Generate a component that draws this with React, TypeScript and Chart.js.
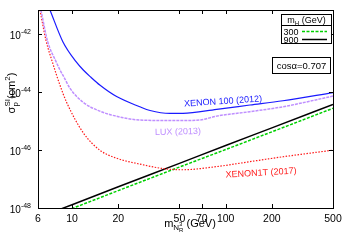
import React, { useEffect, useRef } from "react";
import { Chart, registerables } from "chart.js";

Chart.register(...registerables);

// ---- data ----
const xTicks = [6, 10, 20, 50, 70, 100, 200, 500];
const yTickExps = [-48, -46, -44, -42];

const xenon100Mass = [7.18, 8.69, 10.58, 11.83, 13.27, 15.15, 19.5, 27.6, 32.2, 43.4, 52.7, 87.4, 144, 236, 500];
const xenon100Sigma = [7e-42, 5.75e-43, 1.17e-43, 5.9e-44, 3.3e-44, 1.78e-44, 7.1e-45, 3.16e-45, 2.34e-45, 1.86e-45, 1.86e-45, 2.57e-45, 3.63e-45, 5.1e-45, 9.8e-45];

const luxMass = [6.27, 6.93, 7.85, 8.34, 8.87, 9.66, 11.83, 15.15, 19.5, 27.6, 50.3, 68, 87.4, 144, 236, 500];
const luxSigma = [7e-42, 5.75e-43, 1.17e-43, 5.9e-44, 3.3e-44, 1.41e-44, 4.47e-45, 2.24e-45, 1.48e-45, 1.1e-45, 1.05e-45, 1.1e-45, 1.5e-45, 2.14e-45, 3.16e-45, 7.4e-45];

const xenon1tMass = [6.18, 6.76, 7.46, 8.3, 9.22, 11.83, 15.15, 19.5, 27.6, 39.3, 52.7, 87.4, 144, 236, 500];
const xenon1tSigma = [7e-42, 6.3e-43, 1.07e-43, 1.9e-44, 4.47e-45, 3.98e-46, 1.0e-46, 5.25e-47, 3.3e-47, 2.3e-47, 2.1e-47, 2.7e-47, 4.0e-47, 5.9e-47, 1.0e-46];

const mHMass = [6, 10, 20, 50, 100, 200, 500];
const mH300Sigma = [3.4e-49, 9.6e-49, 4.0e-48, 2.6e-47, 1.05e-46, 4.3e-46, 2.8e-45];
const mH900Sigma = [4.6e-49, 1.3e-48, 5.4e-48, 3.5e-47, 1.45e-46, 5.9e-46, 3.8e-45];

const legendTitle = "(GeV)";
const legendLabels = ["300", "900"];
const cosLabel = "cosα=0.707";

const FONT = "'Liberation Sans', Arial, sans-serif";

type Part = { t: string; size: number; dy?: number; stack?: boolean };

function drawRich(
  ctx: CanvasRenderingContext2D,
  x: number,
  y: number,
  parts: Part[],
  align: "left" | "center" | "right",
  color: string
) {
  let prevStart = 0;
  let prevW = 0;
  const starts: number[] = [];
  let cursor = 0;
  parts.forEach((p, i) => {
    ctx.font = `${p.size}px ${FONT}`;
    const w = ctx.measureText(p.t).width;
    if (p.stack && i > 0) {
      starts.push(prevStart);
      cursor = Math.max(prevStart + prevW, prevStart + w);
      prevW = Math.max(prevW, w);
    } else {
      starts.push(cursor);
      prevStart = cursor;
      prevW = w;
      cursor += w;
    }
  });
  const total = cursor;
  let x0 = x;
  if (align === "center") x0 = x - total / 2;
  else if (align === "right") x0 = x - total;
  ctx.fillStyle = color;
  ctx.textBaseline = "alphabetic";
  ctx.textAlign = "left";
  parts.forEach((p, i) => {
    ctx.font = `${p.size}px ${FONT}`;
    ctx.fillText(p.t, x0 + starts[i], y + (p.dy || 0));
  });
}

const decorPlugin = {
  id: "decor",
  afterDraw(chart: any) {
    const ctx: CanvasRenderingContext2D = chart.ctx;
    const xs = chart.scales.x;
    const ys = chart.scales.y;
    const a = chart.chartArea;
    ctx.save();

    // frame
    ctx.strokeStyle = "#000";
    ctx.lineWidth = 1;
    ctx.strokeRect(Math.round(a.left) + 0.5, Math.round(a.top) + 0.5, Math.round(a.right - a.left), Math.round(a.bottom - a.top));

    // ticks
    const tl = 4;
    ctx.beginPath();
    xTicks.forEach((v) => {
      const px = Math.round(xs.getPixelForValue(v)) + 0.5;
      ctx.moveTo(px, a.bottom);
      ctx.lineTo(px, a.bottom - tl);
      ctx.moveTo(px, a.top);
      ctx.lineTo(px, a.top + tl);
    });
    yTickExps.forEach((e) => {
      const py = Math.round(ys.getPixelForValue(Math.pow(10, e))) + 0.5;
      ctx.moveTo(a.left, py);
      ctx.lineTo(a.left + tl, py);
      ctx.moveTo(a.right, py);
      ctx.lineTo(a.right - tl, py);
    });
    ctx.stroke();

    // x tick labels
    xTicks.forEach((v) => {
      const px = xs.getPixelForValue(v);
      drawRich(ctx, px, 221.5, [{ t: String(v), size: 10.5 }], "center", "#000");
    });
    // y tick labels
    yTickExps.forEach((e) => {
      const py = ys.getPixelForValue(Math.pow(10, e));
      drawRich(
        ctx,
        31,
        py + 5,
        [
          { t: "10", size: 10 },
          { t: String(e), size: 7, dy: -5 },
        ],
        "right",
        "#000"
      );
    });

    // axis titles
    drawRich(
      ctx,
      190,
      227,
      [
        { t: "m", size: 11 },
        { t: "N", size: 8, dy: 2.5 },
        { t: "3", size: 6, dy: -1.5 },
        { t: "R", size: 6, dy: 5, stack: true },
        { t: " (GeV)", size: 11 },
      ],
      "center",
      "#000"
    );
    ctx.save();
    ctx.translate(15, 93);
    ctx.rotate(-Math.PI / 2);
    drawRich(
      ctx,
      0,
      0,
      [
        { t: "σ", size: 11 },
        { t: "p", size: 8, dy: 3 },
        { t: "SI", size: 8, dy: -5, stack: true },
        { t: "(cm", size: 11 },
        { t: "2", size: 8, dy: -5 },
        { t: ")", size: 11 },
      ],
      "center",
      "#000"
    );
    ctx.restore();

    // curve labels
    const label = (t: string, cx: number, cy: number, rot: number, color: string) => {
      ctx.save();
      ctx.translate(cx, cy);
      ctx.rotate((rot * Math.PI) / 180);
      drawRich(ctx, 0, 3.5, [{ t, size: 9 }], "center", color);
      ctx.restore();
    };
    label("XENON 100 (2012)", 223, 100.5, -3.8, "#1a1aff");
    label("LUX (2013)", 178, 131, -1.5, "#bf8fff");
    label("XENON1T (2017)", 261, 172, -3.4, "#ff1a1a");

    // legend box
    ctx.fillStyle = "#fff";
    ctx.fillRect(281, 14, 51, 30);
    ctx.strokeStyle = "#000";
    ctx.lineWidth = 1;
    ctx.strokeRect(281.5, 14.5, 50, 29);
    ctx.beginPath();
    ctx.moveTo(281.5, 25.5);
    ctx.lineTo(331.5, 25.5);
    ctx.stroke();
    drawRich(
      ctx,
      306.5,
      22.5,
      [
        { t: "m", size: 9 },
        { t: "H", size: 6, dy: 2 },
        { t: " " + legendTitle, size: 9 },
      ],
      "center",
      "#000"
    );
    drawRich(ctx, 283.5, 34.5, [{ t: legendLabels[0], size: 9 }], "left", "#000");
    drawRich(ctx, 283.5, 42.5, [{ t: legendLabels[1], size: 9 }], "left", "#000");
    ctx.lineWidth = 1.5;
    ctx.strokeStyle = "#00d000";
    ctx.setLineDash([3, 1.5]);
    ctx.beginPath();
    ctx.moveTo(302, 31.5);
    ctx.lineTo(327, 31.5);
    ctx.stroke();
    ctx.setLineDash([]);
    ctx.strokeStyle = "#000";
    ctx.beginPath();
    ctx.moveTo(302, 39.5);
    ctx.lineTo(327, 39.5);
    ctx.stroke();

    // cos box
    ctx.lineWidth = 1;
    ctx.fillStyle = "#fff";
    ctx.fillRect(272, 57, 59, 17);
    ctx.strokeStyle = "#000";
    ctx.strokeRect(272.5, 57.5, 58, 16);
    drawRich(ctx, 301.5, 69, [{ t: cosLabel, size: 9.5 }], "center", "#000");

    ctx.restore();
  },
};

function pts(xs: number[], ys: number[]) {
  return xs.map((x, i) => ({ x, y: ys[i] }));
}

export default function App() {
  const ref = useRef<HTMLCanvasElement | null>(null);
  useEffect(() => {
    if (!ref.current) return;
    const common = { pointRadius: 0, showLine: true, fill: false, cubicInterpolationMode: "monotone" as const };
    const chart = new Chart(ref.current, {
      type: "scatter",
      data: {
        datasets: [
          { ...common, label: "XENON 100 (2012)", data: pts(xenon100Mass, xenon100Sigma), borderColor: "#1a1aff", borderWidth: 1.2 },
          { ...common, label: "LUX (2013)", data: pts(luxMass, luxSigma), borderColor: "#bf8fff", borderWidth: 1.5, borderDash: [3, 1] },
          { ...common, label: "XENON1T (2017)", data: pts(xenon1tMass, xenon1tSigma), borderColor: "#ff1a1a", borderWidth: 1.2, borderDash: [1.5, 1.5] },
          { ...common, label: "300", data: pts(mHMass, mH300Sigma), borderColor: "#00d000", borderWidth: 1.5, borderDash: [3, 1.5] },
          { ...common, label: "900", data: pts(mHMass, mH900Sigma), borderColor: "#000", borderWidth: 1.5 },
        ],
      },
      options: {
        responsive: false,
        animation: false,
        layout: { padding: { left: 38, right: 17, top: 10, bottom: 37 } },
        scales: {
          x: { type: "logarithmic", min: 6, max: 500, display: false },
          y: { type: "logarithmic", min: 1e-48, max: 7e-42, display: false },
        },
        plugins: { legend: { display: false }, tooltip: { enabled: false } },
      },
      plugins: [decorPlugin],
    });
    return () => chart.destroy();
  }, []);
  return (
    <div style={{ position: "fixed", left: 0, top: 0, width: 350, height: 245, background: "#fff" }}>
      <canvas ref={ref} width={350} height={245} style={{ display: "block" }} />
    </div>
  );
}
